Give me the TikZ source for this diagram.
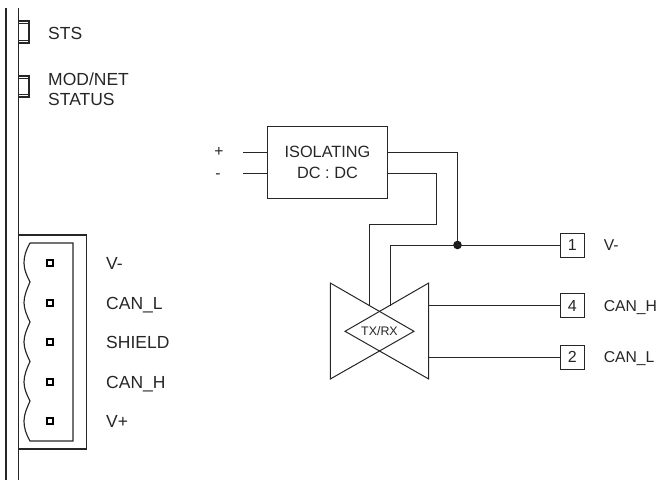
\documentclass[tikz,border=0pt]{standalone}
\usepackage{fontspec}
\setmainfont{Liberation Sans}
\usetikzlibrary{positioning}
\tikzset{
	wire/.style={draw=black!85, line width=1pt},
	frame/.style={draw=black!85, line width=1.15pt},
	lbl/.style={text=black!85, font=\fontsize{17.5}{21}\selectfont, anchor=west, inner sep=0pt, align=left, text height=12.5pt, text depth=0pt},
	sidelbl/.style={lbl, font=\fontsize{15.7}{19}\selectfont, text height=11.3pt},
	terminal/.style={draw=black!85, line width=1pt, minimum width=24.5pt, minimum height=24pt, inner sep=0pt, outer sep=0pt, text=black!85, font=\fontsize{16}{19}\selectfont},
	pin/.style={draw=black, line width=1.5pt, minimum size=6pt, inner sep=0pt},
}
\begin{document}
\begin{tikzpicture}[x=1pt, y=-1pt]
		\useasboundingbox (0,0) rectangle (658,480);
		
		% front panel
		\draw[frame] (6,8) -- (6,480);
		\draw[frame] (18.5,8) -- (18.5,480);
		\draw[frame] (18.5,21) rectangle (29,43);
		\draw[frame] (18.5,23.5) -- (29,23.5) (18.5,40.5) -- (29,40.5);
		\draw[frame] (18.5,76) rectangle (29,97);
		\draw[frame] (18.5,78.5) -- (29,78.5) (18.5,94.5) -- (29,94.5);
		\node[lbl] (sts) at (48,33.5) {STS};
		\node[lbl] (mod) at (48,79) {MOD/NET};
		\node[lbl] (status) at (48,99) {STATUS};
		
		% plug
		\draw[frame] (18.5,235) rectangle (86.5,449);
		\draw[frame] (30,243) -- (73,243) -- (73,441) -- (30,441)
			.. controls (26,434) and (24,428) .. (24,421) .. controls (24,414) and (27,408) .. (30,401)
			.. controls (27,395) and (24,389) .. (24,382) .. controls (24,375) and (27,368) .. (30,361.5)
			.. controls (27,355) and (24,349) .. (24,342) .. controls (24,335) and (27,329) .. (30,322)
			.. controls (27,316) and (24,309) .. (24,302.5) .. controls (24,296) and (27,289) .. (30,282)
			.. controls (27,276) and (24,270) .. (24,263) .. controls (24,256) and (26,250) .. (30,243);
		\foreach \name/\y/\txt in {a/263/V-, b/303/CAN\_L, c/342/SHIELD, d/382/CAN\_H, e/421/V+} {
			\node[pin] (pin\name) at (50,\y) {};
			\node[lbl] (txt\name) at (106,\y) {\txt};
		}
		
		% isolator
		\node[draw=black!85, line width=1pt, minimum width=120.5pt, minimum height=72pt, inner sep=0pt, outer sep=0pt, align=center, text=black!85, font=\fontsize{16.3}{21}\selectfont] (iso) at (327.5,162.7) {ISOLATING\\DC : DC};
		\coordinate (isoin1) at (267.3,152.3);
		\coordinate (isoin2) at (267.3,173.3);
		\coordinate (isoout1) at (387.7,152.3);
		\coordinate (isoout2) at (387.7,173.3);
		\coordinate (plusend) at (243,152.3);
		\coordinate (minusend) at (243,173.3);
		\node[sidelbl, anchor=center] (plus) at (219,151) {+};
		\node[sidelbl, anchor=center] (minus) at (218,173) {-};
		\draw[wire] (plusend) -- (isoin1);
		\draw[wire] (minusend) -- (isoin2);
		
		% transceiver
		\coordinate (tl) at (330.3,283);
		\coordinate (bl) at (330.3,379);
		\coordinate (tr) at (428.7,283);
		\coordinate (br) at (428.7,379);
		\coordinate (rx) at (414,331.3);
		\coordinate (tx) at (345,331.3);
		\draw[wire] (tl) -- (rx) -- (bl) -- cycle;
		\draw[wire] (tr) -- (tx) -- (br) -- cycle;
		\node[text=black!85, font=\fontsize{12.4}{14}\selectfont, inner sep=0pt] (txrx) at (379.5,331.3) {TX/RX};
		\coordinate (feed1) at (369,305.5);
		\coordinate (feed2) at (390.3,305.5);
		\coordinate (out4) at (428.7,305.5);
		\coordinate (out2) at (428.7,357);
		
		% terminals
		\node[terminal] (t1) at (572.3,245) {1};
		\node[terminal] (t4) at (572.3,305.5) {4};
		\node[terminal] (t2) at (572.3,357) {2};
		\node[sidelbl, right=19pt of t1] (vminus) {V-};
		\node[sidelbl, right=19pt of t4] (canh) {CAN\_H};
		\node[sidelbl, right=19pt of t2] (canl) {CAN\_L};
		
		\coordinate (junction) at (457.5,245);
		\fill[black!90] (junction) circle (4.3pt);
		\draw[wire] (isoout1) -| (junction);
		\draw[wire] (feed2) |- (t1);
		\draw[wire] (isoout2) -| (436,224.3) -| (feed1);
		\draw[wire] (out4) -- (t4);
		\draw[wire] (out2) -- (t2);
	\end{tikzpicture}
\end{document}
